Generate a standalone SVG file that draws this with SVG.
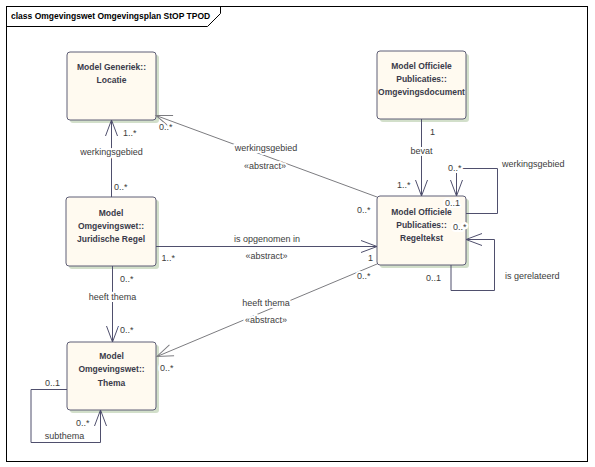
<svg xmlns="http://www.w3.org/2000/svg" width="595" height="467" viewBox="0 0 595 467">
<style>
.frame{fill:#ffffff;stroke:#000000;stroke-width:1}
.tab{fill:none;stroke:#000000;stroke-width:1}
.title{font-family:"Liberation Sans",Arial,sans-serif;font-size:8.5px;font-weight:bold;fill:#000000}
.shadow{fill:#d2dfca}
.box{fill:#fffaf0;stroke:#5e5e76;stroke-width:1}
.nt{font-family:"Liberation Sans",Arial,sans-serif;font-size:8.5px;font-weight:bold;fill:#3a3a4a;text-anchor:middle}
.ln{fill:none;stroke:#4f4f6d;stroke-width:1}
.ab{fill:none;stroke:#7c7c80;stroke-width:1}
.lb{font-family:"Liberation Sans",Arial,sans-serif;font-size:9px;fill:#3c3c3c;stroke:#ffffff;stroke-width:4;paint-order:stroke;stroke-linejoin:round}
.c{text-anchor:middle}
</style>
<defs>
<marker id="ad" markerUnits="userSpaceOnUse" markerWidth="20" markerHeight="20" refX="0" refY="0" orient="auto" overflow="visible">
<path d="M-16,-6 L0,0 L-16,6" fill="none" stroke="#4f4f6d" stroke-width="1"/>
</marker>
<marker id="ag" markerUnits="userSpaceOnUse" markerWidth="20" markerHeight="20" refX="0" refY="0" orient="auto" overflow="visible">
<path d="M-16,-6 L0,0 L-16,6" fill="none" stroke="#7c7c80" stroke-width="1"/>
</marker>
</defs>
<rect class="frame" x="6.5" y="6.5" width="581" height="455"/>
<path class="tab" d="M6.5,26.5 H207.5 L220.5,13.5 V6.5"/>
<text class="title" x="11" y="19">class Omgevingswet Omgevingsplan StOP TPOD</text>

<g id="locatie">
<rect class="shadow" x="70" y="55" width="89" height="68" rx="3"/>
<rect class="box" x="67" y="52" width="89" height="68" rx="3"/>
<text class="nt" x="111.5" y="70">Model Generiek::</text>
<text class="nt" x="111.5" y="83">Locatie</text>
</g>
<g id="omgevingsdocument">
<rect class="shadow" x="380" y="54" width="89" height="68" rx="3"/>
<rect class="box" x="377" y="51" width="89" height="68" rx="3"/>
<text class="nt" x="421.5" y="69">Model Officiele</text>
<text class="nt" x="421.5" y="82">Publicaties::</text>
<text class="nt" x="421.5" y="95">Omgevingsdocument</text>
</g>
<g id="juridische-regel">
<rect class="shadow" x="69" y="200" width="90" height="69" rx="3"/>
<rect class="box" x="66" y="197" width="90" height="69" rx="3"/>
<text class="nt" x="111" y="216">Model</text>
<text class="nt" x="111" y="229">Omgevingswet::</text>
<text class="nt" x="111" y="242">Juridische Regel</text>
</g>
<g id="regeltekst">
<rect class="shadow" x="380" y="199" width="89" height="69" rx="3"/>
<rect class="box" x="377" y="196" width="89" height="69" rx="3"/>
<text class="nt" x="421.5" y="215">Model Officiele</text>
<text class="nt" x="421.5" y="228">Publicaties::</text>
<text class="nt" x="421.5" y="241">Regeltekst</text>
</g>
<g id="thema">
<rect class="shadow" x="70" y="345" width="89" height="68" rx="3"/>
<rect class="box" x="67" y="342" width="89" height="68" rx="3"/>
<text class="nt" x="111.5" y="359">Model</text>
<text class="nt" x="111.5" y="372">Omgevingswet::</text>
<text class="nt" x="111.5" y="386">Thema</text>
</g>

<g id="connectors">
<line class="ln" x1="111.5" y1="197" x2="111.5" y2="120" marker-end="url(#ad)"/>
<line class="ab" x1="377" y1="197" x2="156" y2="115.5" marker-end="url(#ag)"/>
<line class="ln" x1="421.5" y1="119" x2="421.5" y2="196" marker-end="url(#ad)"/>
<polyline class="ln" points="466,213.5 497.5,213.5 497.5,168.5 456.5,168.5 456.5,196" marker-end="url(#ad)"/>
<polyline class="ln" points="451,265 451,290.5 494.5,290.5 494.5,239.5 466,239.5" marker-end="url(#ad)"/>
<line class="ln" x1="156" y1="246.5" x2="377" y2="246.5" marker-end="url(#ad)"/>
<line class="ab" x1="377" y1="264" x2="157" y2="356.5" marker-end="url(#ag)"/>
<line class="ln" x1="112.5" y1="266" x2="112.5" y2="342" marker-end="url(#ad)"/>
<polyline class="ln" points="67,389.5 31,389.5 31,442.5 100.5,442.5 100.5,410" marker-end="url(#ad)"/>

<text class="lb c" x="111.5" y="155">werkingsgebied</text>
<text class="lb" x="123" y="136">1..*</text>
<text class="lb" x="114" y="190">0..*</text>

<text class="lb c" x="266" y="151">werkingsgebied</text>
<text class="lb c" x="265" y="169">«abstract»</text>
<text class="lb" x="159" y="130">0..*</text>
<text class="lb" x="357" y="213">0..*</text>

<text class="lb c" x="421.5" y="154">bevat</text>
<text class="lb" x="430" y="135">1</text>
<text class="lb" x="397" y="188">1..*</text>

<text class="lb" x="502" y="167">werkingsgebied</text>
<text class="lb" x="448" y="171">0..*</text>
<text class="lb" x="445" y="205.5">0..1</text>

<text class="lb" x="505" y="279">is gerelateerd</text>
<text class="lb" x="426" y="281">0..1</text>
<text class="lb" x="453" y="230">0..*</text>

<text class="lb c" x="267" y="241.5">is opgenomen in</text>
<text class="lb c" x="266.5" y="259">«abstract»</text>
<text class="lb" x="161.5" y="261">1..*</text>
<text class="lb" x="368" y="261">1</text>

<text class="lb c" x="266" y="306">heeft thema</text>
<text class="lb c" x="266" y="323">«abstract»</text>
<text class="lb" x="357" y="279">0..*</text>
<text class="lb" x="160" y="371">0..*</text>

<text class="lb c" x="112.5" y="300">heeft thema</text>
<text class="lb" x="120" y="282">0..*</text>
<text class="lb" x="120" y="333">0..*</text>

<text class="lb" x="45" y="386">0..1</text>
<text class="lb" x="76" y="426">0..*</text>
<text class="lb c" x="64.5" y="438.5">subthema</text>
</g>
</svg>
